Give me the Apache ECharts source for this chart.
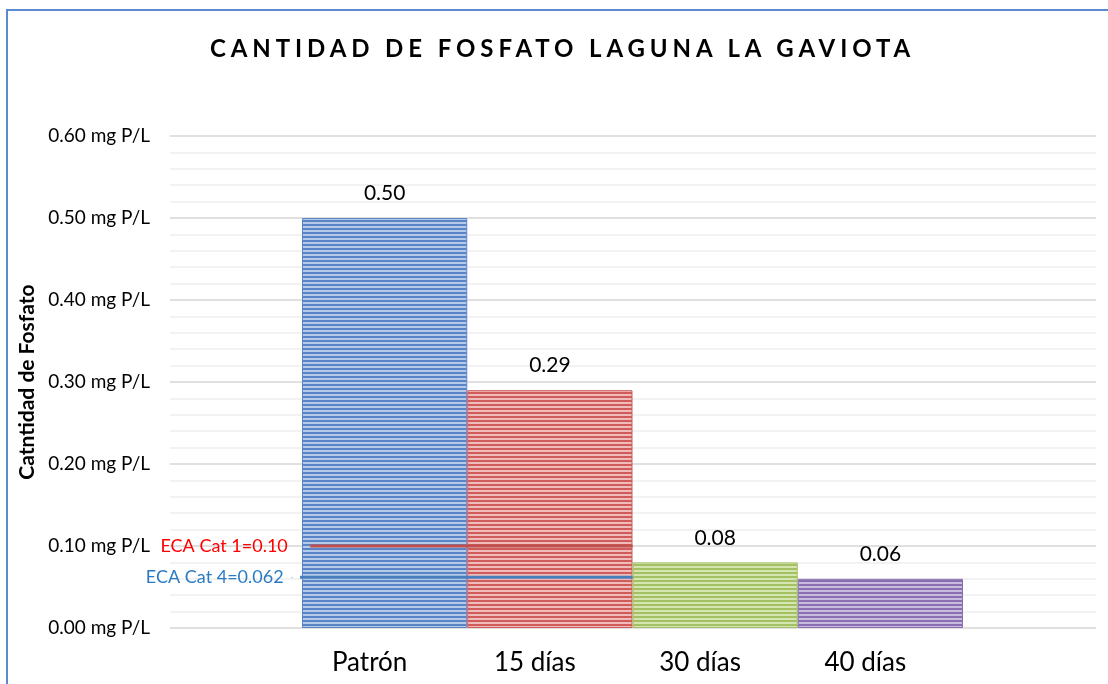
<!DOCTYPE html>
<html>
<head>
<meta charset="utf-8">
<title>Cantidad de fosfato laguna La Gaviota</title>
<script src="https://cdn.jsdelivr.net/npm/echarts@6/dist/echarts.min.js"></script>
<style>
  html, body { margin: 0; padding: 0; background: #fff; }
  #wrap { position: relative; width: 1108px; height: 684px; }
  #main { width: 1108px; height: 684px; }
  #titulo {
    position: absolute; left: 210px; top: 34px;
    font: bold 24px Lato, sans-serif; line-height: 28px;
    letter-spacing: 4.9px; color: #000; white-space: nowrap;
    pointer-events: none;
  }
</style>
</head>
<body>
<div id="wrap">
  <div id="main"></div>
  <div id="titulo">CANTIDAD DE FOSFATO LAGUNA LA GAVIOTA</div>
</div>
<script>
  // datos
  var categorias = ["Patrón", "15 días", "30 días", "40 días"];
  var fosfato = [0.50, 0.29, 0.08, 0.06];
  var ejeY = [0, 0.1, 0.2, 0.3, 0.4, 0.5, 0.6];
  var ecaCat1 = 0.10;
  var ecaCat4 = 0.062;

  // colores de barra: oscuro / claro (rayas horizontales)
  var colores = [
    ["#5a84c6", "#b4cae9"],
    ["#cf5c5a", "#efbcbb"],
    ["#a3c065", "#d5e5b0"],
    ["#8a6fb0", "#c9badf"]
  ];

  function rayas(oscuro, claro) {
    var c = document.createElement("canvas");
    c.width = 4;
    c.height = 4;
    var ctx = c.getContext("2d");
    ctx.fillStyle = oscuro;
    ctx.fillRect(0, 0, 4, 2);
    ctx.fillStyle = claro;
    ctx.fillRect(0, 2, 4, 2);
    return { image: c, repeat: "repeat" };
  }

  var chartDom = document.getElementById("main");
  var myChart = echarts.init(chartDom);

  var barras = fosfato.map(function (v, i) {
    return {
      value: v,
      itemStyle: {
        color: rayas(colores[i][0], colores[i][1]),
        borderColor: colores[i][0],
        borderWidth: 1
      }
    };
  });

  function lineaEca(valor, texto, colorLinea, colorTexto, desde, gap) {
    return {
      type: "line",
      xAxisIndex: 2,
      yAxisIndex: 1,
      clip: false,
      silent: true,
      z: 5,
      symbol: "circle",
      symbolSize: 1,
      itemStyle: { color: colorLinea },
      lineStyle: { color: colorLinea, width: 3 },
      data: [
        {
          value: [desde, valor],
          label: {
            show: true,
            position: "left",
            distance: gap,
            formatter: texto,
            color: colorTexto,
            fontSize: 18,
            fontFamily: "Lato"
          }
        },
        { value: [2, valor] }
      ]
    };
  }

  var option = {
    animation: false,
    graphic: [
      {
        type: "rect",
        shape: { x: 7, y: 10, width: 1300, height: 900 },
        style: { fill: "none", stroke: "#5b8ad0", lineWidth: 2 },
        silent: true
      }
    ],
    grid: [
      { left: 170, right: 12, top: 136, bottom: 56 },
      { left: 302, right: 145, top: 136, bottom: 56 }
    ],
    xAxis: [
      { gridIndex: 0, type: "value", min: 0, max: 1, show: false },
      {
        gridIndex: 1,
        type: "category",
        data: categorias,
        axisLine: { show: false },
        axisTick: { show: false },
        axisLabel: {
          fontSize: 26,
          fontFamily: "Lato",
          color: "#000",
          margin: 22,
          padding: [0, 30, 0, 0]
        }
      },
      { gridIndex: 1, type: "value", min: 0, max: 4, show: false }
    ],
    yAxis: [
      {
        gridIndex: 0,
        type: "value",
        min: ejeY[0],
        max: ejeY[ejeY.length - 1],
        interval: 0.1,
        name: "Catntidad de Fosfato",
        nameLocation: "middle",
        nameGap: 128,
        nameTextStyle: { fontSize: 21, fontWeight: "bold", fontFamily: "Lato", color: "#000" },
        axisLine: { show: false },
        axisTick: { show: false },
        axisLabel: {
          fontSize: 19,
          fontFamily: "Lato",
          color: "#000",
          margin: 20,
          formatter: function (v) { return v.toFixed(2) + " mg P/L"; }
        },
        splitLine: { lineStyle: { color: "#d6d6d6", width: 1.5 } },
        minorTick: { show: false, splitNumber: 5 },
        minorSplitLine: { show: true, lineStyle: { color: "#eeeeee", width: 1.5 } }
      },
      { gridIndex: 1, type: "value", min: 0, max: 0.6, show: false }
    ],
    series: [
      {
        type: "bar",
        xAxisIndex: 1,
        yAxisIndex: 1,
        barWidth: "100%",
        data: barras,
        label: {
          show: true,
          position: "top",
          distance: 14,
          fontSize: 21,
          fontFamily: "Lato",
          color: "#000",
          formatter: function (p) { return p.value.toFixed(2); }
        }
      },
      lineaEca(ecaCat1, "ECA Cat 1=0.10", "#c0504d", "#ff0000", 0.05, 22),
      lineaEca(ecaCat4, "ECA Cat 4=0.062", "#4a7ebb", "#2a7bc4", -0.06, 8)
    ]
  };

  myChart.setOption(option);
  window.addEventListener("resize", function () { myChart.resize(); });
</script>
</body>
</html>
